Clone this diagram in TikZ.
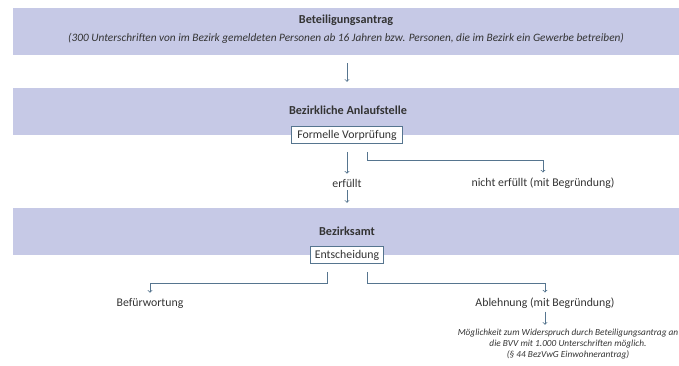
\documentclass[tikz,border=0pt]{standalone}
\usepackage{fontspec}
\setmainfont{Carlito}
\usetikzlibrary{positioning}
\definecolor{bandfill}{HTML}{C6C9E6}
\definecolor{linecol}{HTML}{56758F}
\definecolor{txt}{HTML}{333333}

\begin{document}
\begin{tikzpicture}[x=1pt, y=-1pt, >=to,
  band/.style={fill=bandfill, minimum width=668pt, minimum height=47pt, inner sep=0pt},
  title/.style={font=\fontsize{12.2}{14}\selectfont\bfseries, text=txt},
  stepbox/.style={draw=linecol, fill=white, line width=0.8pt, text=txt,
    font=\fontsize{11.8}{13}\selectfont, inner xsep=6pt, inner ysep=0pt, minimum height=17pt},
  outcome/.style={font=\fontsize{11.8}{13}\selectfont, text=txt, inner sep=1pt},
  note/.style={font=\fontsize{9.3}{11}\selectfont\itshape, text=txt, align=center, inner sep=1pt},
  conn/.style={draw=linecol, line width=0.8pt}]
  \useasboundingbox (0,0) rectangle (679,366);
  \clip (0,0) rectangle (679,366);
  \node[band] (band1) at (347,31.5) {};
  \node[band] (band2) at (347,111.5) {};
  \node[band] (band3) at (347,231.5) {};
  \node[title] (antrag) at (346,20) {Beteiligungsantrag};
  \node[note] (antragsub) at (346,38) {\fontsize{11.3}{13}\selectfont(300 Unterschriften von im Bezirk gemeldeten Personen ab 16 Jahren bzw. Personen, die im Bezirk ein Gewerbe betreiben)};
  \node[title] (anlauf) at (348,110) {Bezirkliche Anlaufstelle};
  \node[stepbox] (vorpr) at (347,135) {Formelle Vorprüfung};
  \node[title] (amt) at (347,231) {Bezirksamt};
  \node[stepbox, inner xsep=4pt] (entsch) at (347,255) {Entscheidung};
  \node[outcome] (erf) at (347,183) {erfüllt};
  \node[outcome] (nerf) at (543,183) {nicht erfüllt (mit Begründung)};
  \node[outcome] (befw) at (150,303) {Befürwortung};
  \node[outcome] (ableh) at (545,303) {Ablehnung (mit Begründung)};
  \node[note] (widerspr) at (568,344) {Möglichkeit zum Widerspruch durch Beteiligungsantrag an\\
    die BVV mit 1.000 Unterschriften möglich.\\ (§ 44 BezVwG Einwohnerantrag)};
  \draw[conn, ->] ([yshift=-8pt]band1.south) -- ([yshift=6pt]band2.north);
  \draw[conn, ->] ([yshift=-8pt]vorpr.south) -- ([yshift=4pt]erf.north);
  \draw[conn, ->] ([xshift=20pt, yshift=-8pt]vorpr.south) -- ++(0,9) -| ([yshift=4pt]nerf.north);
  \draw[conn, ->] ([yshift=-2pt]erf.south) -- ([yshift=5pt]band3.north);
  \draw[conn, ->] ([xshift=-20pt, yshift=-8pt]entsch.south) -- ++(0,11) -| ([yshift=4pt]befw.north);
  \draw[conn, ->] ([xshift=20pt, yshift=-8pt]entsch.south) -- ++(0,11) -| ([yshift=4pt]ableh.north);
  \draw[conn, ->] ([yshift=-2pt]ableh.south) -- ([xshift=-23pt, yshift=3pt]widerspr.north);
\end{tikzpicture}
\end{document}
